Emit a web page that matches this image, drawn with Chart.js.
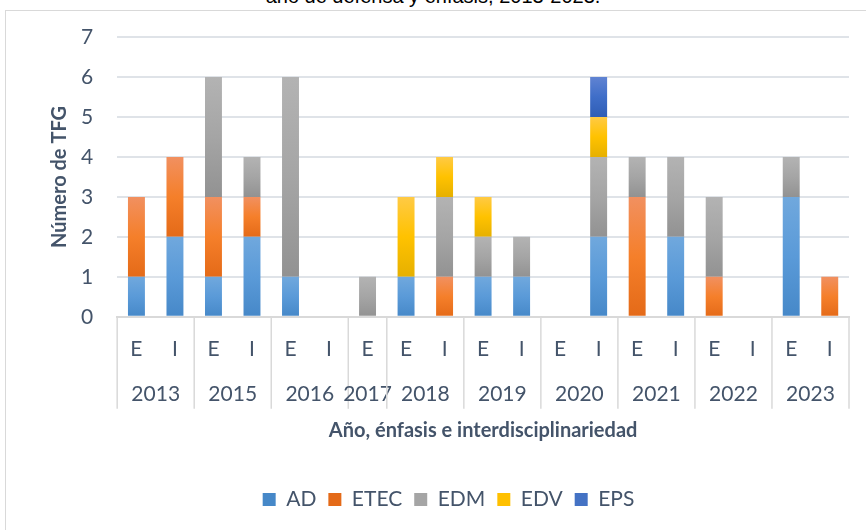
<!DOCTYPE html>
<html>
<head>
<meta charset="utf-8">
<script src="https://cdn.jsdelivr.net/npm/chart.js@4.4.0/dist/chart.umd.min.js"></script>
<style>
body { margin: 0; background: #fff; width: 866px; height: 530px; overflow: hidden; position: relative; }
#box { position: absolute; left: 5px; top: 10px; width: 870px; height: 525px; border: 1px solid #d9d9d9; }
#ttl { position: absolute; left: 0; width: 866px; top: -15px; text-align: center; font: 20px "Liberation Sans", Arial; color: #000; }
#wrap { position: absolute; left: 0; top: 0; width: 866px; height: 530px; }
</style>
</head>
<body>
<div id="box"></div>
<div id="ttl">año de defensa y énfasis, 2013-2023.</div>
<div id="wrap"><canvas id="myChart" width="866" height="530"></canvas></div>
<script>
// grupos de años y cuántas barras tiene cada uno
const years = ['2013', '2015', '2016', '2017', '2018', '2019', '2020', '2021', '2022', '2023'];
const yearSpan = [2, 2, 2, 1, 2, 2, 2, 2, 2, 2];
const subLabels = ['E','I', 'E','I', 'E','I', 'E', 'E','I', 'E','I', 'E','I', 'E','I', 'E','I', 'E','I'];

const ad   = [1,2, 1,2, 1,0, 0, 1,0, 1,1, 0,2, 0,2, 0,0, 3,0];
const etec = [2,2, 2,1, 0,0, 0, 0,1, 0,0, 0,0, 3,0, 1,0, 0,1];
const edm  = [0,0, 3,1, 5,0, 1, 0,2, 1,1, 0,2, 1,2, 2,0, 1,0];
const edv  = [0,0, 0,0, 0,0, 0, 2,1, 1,0, 0,1, 0,0, 0,0, 0,0];
const eps  = [0,0, 0,0, 0,0, 0, 0,0, 0,0, 0,1, 0,0, 0,0, 0,0];

const yTicks = [0, 1, 2, 3, 4, 5, 6, 7];

const txtColor = '#44546a';
const fontName = 'Lato';

// colores con degradado (arriba claro, abajo oscuro) como en Excel
function grad(base, top, mid, bottom) {
    return function(c) {
        if (c.type !== 'data' || !c.chart.chartArea) return base;
        const chart = c.chart;
        const y = chart.scales.y;
        let start = 0;
        for (let d = 0; d < c.datasetIndex; d++) start += chart.data.datasets[d].data[c.dataIndex] || 0;
        const v = chart.data.datasets[c.datasetIndex].data[c.dataIndex] || 0;
        const y0 = y.getPixelForValue(start);
        const y1 = y.getPixelForValue(start + v);
        if (y0 === y1) return base;
        const g = chart.ctx.createLinearGradient(0, y1, 0, y0);
        g.addColorStop(0, top);
        g.addColorStop(0.5, mid);
        g.addColorStop(1, bottom);
        return g;
    };
}

// etiquetas de año y líneas separadoras debajo del eje
const yearLabels = {
    id: 'yearLabels',
    afterDraw(chart) {
        const x = chart.scales.x;
        const ctx = chart.ctx;
        const area = chart.chartArea;
        const slot = x.getPixelForValue(1) - x.getPixelForValue(0);
        ctx.save();
        ctx.strokeStyle = '#d9d9d9';
        ctx.lineWidth = 1.5;
        ctx.fillStyle = txtColor;
        ctx.font = '21px ' + fontName;
        ctx.textAlign = 'center';
        ctx.textBaseline = 'middle';
        let idx = 0;
        for (let i = 0; i <= years.length; i++) {
            const left = x.getPixelForValue(idx) - slot / 2;
            ctx.beginPath();
            ctx.moveTo(left, area.bottom);
            ctx.lineTo(left, area.bottom + 92);
            ctx.stroke();
            if (i < years.length) {
                const right = left + slot * yearSpan[i];
                ctx.fillText(years[i], (left + right) / 2, area.bottom + 77);
                idx += yearSpan[i];
            }
        }
        ctx.restore();
    }
};

const ctx = document.getElementById('myChart').getContext('2d');
new Chart(ctx, {
    type: 'bar',
    data: {
        labels: subLabels,
        datasets: [
            { label: 'AD',   data: ad,   backgroundColor: grad('#5b9bd5', '#70a8dd', '#5a9ad8', '#4688c8') },
            { label: 'ETEC', data: etec, backgroundColor: grad('#ed7d31', '#f19060', '#f57f2a', '#e46a18') },
            { label: 'EDM',  data: edm,  backgroundColor: grad('#a5a5a5', '#b3b3b3', '#a5a5a5', '#929292') },
            { label: 'EDV',  data: edv,  backgroundColor: grad('#ffc000', '#ffca45', '#ffc200', '#e6b000') },
            { label: 'EPS',  data: eps,  backgroundColor: grad('#4472c4', '#6083d2', '#3f6ec8', '#2f5db5') }
        ]
    },
    options: {
        responsive: false,
        animation: false,
        layout: { padding: { left: 48, right: 17, top: 37, bottom: 10 } },
        datasets: { bar: { categoryPercentage: 1, barPercentage: 0.44 } },
        scales: {
            x: {
                stacked: true,
                grid: { display: false, drawTicks: false },
                border: { display: true, color: '#d9d9d9', width: 2 },
                ticks: { color: txtColor, font: { family: fontName, size: 21 }, padding: 20, maxRotation: 0, autoSkip: false },
                title: {
                    display: true, text: 'Año, énfasis e interdisciplinariedad', color: txtColor,
                    font: { family: fontName, size: 20, weight: 'bold' }, padding: { top: 37, bottom: 34 }
                }
            },
            y: {
                stacked: true,
                min: 0, max: 7,
                afterBuildTicks: function(s) { s.ticks = yTicks.map(v => ({ value: v })); },
                grid: { color: '#dfe3e8', lineWidth: 2, drawTicks: false },
                border: { display: false },
                ticks: { color: txtColor, font: { family: fontName, size: 21 }, padding: 24 },
                title: {
                    display: true, text: 'Número de TFG', color: txtColor,
                    font: { family: fontName, size: 20, weight: 'bold' }, padding: { top: 0, bottom: -15 }
                }
            }
        },
        plugins: {
            legend: {
                position: 'bottom',
                labels: { color: txtColor, font: { family: fontName, size: 21 }, boxWidth: 13, boxHeight: 13, padding: 12 }
            },
            tooltip: { enabled: false }
        }
    },
    plugins: [yearLabels]
});
</script>
</body>
</html>
